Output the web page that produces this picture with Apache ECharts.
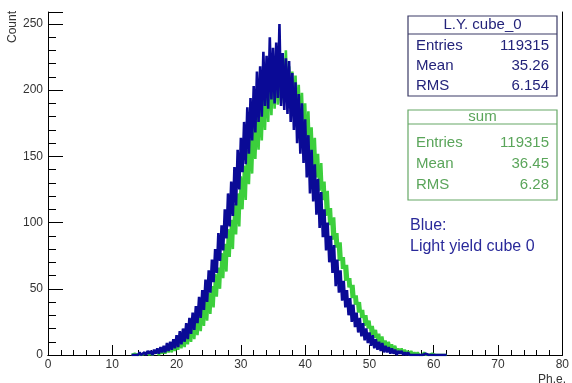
<!DOCTYPE html>
<html><head><meta charset="utf-8">
<script src="https://cdn.jsdelivr.net/npm/echarts@6/dist/echarts.min.js"></script>
<style>html,body{margin:0;padding:0;background:#fff}#c{width:572px;height:383px}</style>
</head><body><div id="c"></div>
<script>
// ---- data ----
const binStart = 13;      // Ph.e. of first bin
const binWidth = 0.25;    // bin width
const blueCounts = [
  0,1,0,1,   0,2,0,1,   2,0,3,1,   3,0,4,1,   5,1,6,2,
  7,2,9,3,   10,4,12,5, 15,6,18,8, 20,10,24,12, 28,16,32,19,
  37,24,44,28, 49,34,57,40, 64,47,72,55, 80,62,92,71, 98,79,110,88,
  122,97,131,105, 142,113,155,125, 164,138,176,144, 187,152,194,162, 203,168,214,176,
  218,180,229,188, 226,186,240,193, 232,190,236,194, 250,188,228,185, 224,182,222,176,
  213,170,206,160, 197,152,190,145, 178,134,166,122, 155,116,144,106, 133,96,123,89,
  110,79,100,70, 90,62,83,52, 72,47,64,41, 56,36,49,30, 43,25,38,21,
  32,17,28,14, 24,11,20,9, 17,7,15,5, 12,4,10,3, 9,2,7,2,
  6,1,5,1, 4,0,3,1, 3,0,2,0, 2,0,1,0, 1,0,1,0,
  1,0,0,1, 0,0,1,0, 0,0,0,0, 0,0,0,0, 0
];
const greenCounts = [
  0,0,1,0,   0,1,0,0,   1,0,2,0,   2,0,2,1,   3,0,4,1,
  5,1,6,2,   7,2,8,3,   10,4,12,5, 14,6,17,8, 20,10,23,12,
  27,15,31,18, 36,22,41,26, 47,31,52,36, 61,44,66,50, 77,58,84,63,
  95,74,102,80, 114,91,122,97, 135,110,143,117, 155,129,164,137, 175,148,181,155,
  192,162,199,170, 206,176,214,181, 216,186,222,189, 220,190,226,192, 230,188,218,186,
  214,182,211,178, 204,172,198,166, 190,158,184,150, 172,142,164,134, 152,124,145,117,
  131,105,124,98, 111,87,104,81, 92,71,85,65, 74,56,68,51, 58,43,53,38,
  45,32,40,28, 34,22,30,20, 26,15,22,13, 19,10,16,8, 14,6,11,5,
  10,4,8,3, 7,2,5,1, 5,1,4,1, 3,0,3,0, 2,0,2,0,
  1,0,2,0, 1,0,0,1, 0,0,1,0, 0,0,0,0, 0
];
const xTickLabels = ['0','10','20','30','40','50','60','70','80'];
const yTickLabels = ['0','50','100','150','200','250'];
const blueTitle = 'L.Y. cube_0';
const blueStatNames = ['Entries','Mean','RMS'];
const blueStatValues = ['119315','35.26','6.154'];
const greenTitle = 'sum';
const greenStatNames = ['Entries','Mean','RMS'];
const greenStatValues = ['119315','36.45','6.28'];
const noteLines = ['Blue:','Light yield cube 0'];
const xTitle = 'Ph.e.';
const yTitle = 'Count';

// ---- styles ----
const FONT = 'Liberation Sans, Arial, Helvetica, sans-serif';
const BLUE = '#0a0a96';
const GREEN = '#3ccf3c';
const xMin = 0, xMax = 80, yMin = 0, yMax = 259;

const toPairs = arr => arr.map((v, i) => [binStart + i * binWidth, v]);

function statBox(x, y, w, h, sepY, titleY, rowYs, title, names, values, txtColor, border) {
  const els = [
    {type:'rect', shape:{x:x, y:y, width:w, height:h}, style:{fill:'#fff', stroke:border, lineWidth:1.2}, z:10},
    {type:'line', shape:{x1:x, y1:sepY, x2:x + w, y2:sepY}, style:{stroke:border, lineWidth:1.2}, z:11},
    {type:'text', x:x + w / 2, y:titleY, style:{text:title, fill:txtColor, font:'15px ' + FONT, align:'center', verticalAlign:'middle'}, z:11}
  ];
  names.forEach((n, i) => {
    els.push({type:'text', x:x + 8, y:rowYs[i], style:{text:n, fill:txtColor, font:'15px ' + FONT, align:'left', verticalAlign:'middle'}, z:11});
    els.push({type:'text', x:x + w - 8, y:rowYs[i], style:{text:values[i], fill:txtColor, font:'15px ' + FONT, align:'right', verticalAlign:'middle'}, z:11});
  });
  return els;
}

const chart = echarts.init(document.getElementById('c'), null, {renderer:'canvas'});
const axisLineStyle = {color:'#000', width:1};
const option = {
  animation:false,
  backgroundColor:'#fff',
  grid:{left:48, right:7, top:12, bottom:28},
  xAxis:[
    {type:'value', min:xMin, max:xMax, interval:10,
     axisLine:{lineStyle:axisLineStyle}, splitLine:{show:false},
     axisTick:{inside:true, length:10, lineStyle:axisLineStyle},
     minorTick:{show:true, splitNumber:5, length:5, lineStyle:axisLineStyle},
     axisLabel:{color:'#333', fontSize:12, fontFamily:FONT, margin:4,
       formatter:v => xTickLabels[xTickLabels.indexOf(String(v))] || ''}},
    {type:'value', position:'top', min:xMin, max:xMax,
     axisLine:{show:true, lineStyle:axisLineStyle}, axisTick:{show:false}, axisLabel:{show:false}, splitLine:{show:false}}
  ],
  yAxis:[
    {type:'value', min:yMin, max:yMax, interval:50,
     axisLine:{lineStyle:axisLineStyle}, splitLine:{show:false},
     axisTick:{inside:true, length:15, lineStyle:axisLineStyle},
     axisLabel:{color:'#333', fontSize:12, fontFamily:FONT, margin:5,
       formatter:v => yTickLabels.indexOf(String(v)) >= 0 ? String(v) : ''}},
    {type:'value', position:'left', min:yMin, max:yMax, interval:10,
     axisLine:{show:false}, splitLine:{show:false}, axisLabel:{show:false},
     axisTick:{inside:true, length:8, lineStyle:axisLineStyle}},
    {type:'value', position:'right', min:yMin, max:yMax,
     axisLine:{show:true, lineStyle:axisLineStyle}, axisTick:{show:false}, axisLabel:{show:false}, splitLine:{show:false}}
  ],
  series:[
    {name:greenTitle, type:'line', data:toPairs(greenCounts), showSymbol:false, silent:true,
     lineStyle:{color:GREEN, width:2.6}, itemStyle:{color:GREEN}, z:2},
    {name:blueTitle, type:'line', data:toPairs(blueCounts), showSymbol:false, silent:true,
     lineStyle:{color:BLUE, width:2.6}, itemStyle:{color:BLUE}, z:3}
  ],
  graphic:[].concat(
    statBox(408, 16, 149, 80, 34, 25, [46, 66, 86], blueTitle, blueStatNames, blueStatValues, '#23237a', '#3a3a66'),
    statBox(408, 110, 149, 90, 124, 117, [143, 164, 185], greenTitle, greenStatNames, greenStatValues, '#5aa55a', '#66a866'),
    [
      {type:'text', x:410, y:226, style:{text:noteLines[0], fill:'#2a2a9a', font:'16px ' + FONT, align:'left', verticalAlign:'middle'}, z:11},
      {type:'text', x:410, y:247, style:{text:noteLines[1], fill:'#2a2a9a', font:'16px ' + FONT, align:'left', verticalAlign:'middle'}, z:11},
      {type:'text', x:13, y:11, rotation:Math.PI / 2, style:{text:yTitle, fill:'#333', font:'12px ' + FONT, align:'right', verticalAlign:'middle'}, z:11},
      {type:'text', x:566, y:374, style:{text:xTitle, fill:'#333', font:'12px ' + FONT, align:'right', verticalAlign:'top'}, z:11}
    ]
  )
};
chart.setOption(option);
</script>
</body></html>
